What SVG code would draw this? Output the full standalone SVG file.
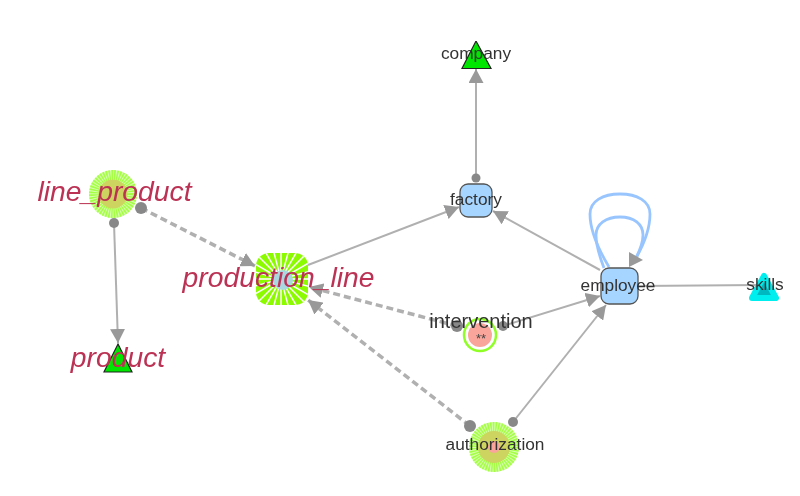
<svg xmlns="http://www.w3.org/2000/svg" width="800" height="496" viewBox="0 0 800 496">
<style>
.e{fill:none;stroke:#b0b0b0;stroke-width:2}
.d{fill:none;stroke:#b0b0b0;stroke-width:3.5;stroke-dasharray:7 4}
.l{fill:none;stroke:#99c5ff;stroke-width:2.800}
.dot{fill:#888}
.t{font-family:"Liberation Sans",Arial,sans-serif;font-size:17.300px;fill:#333;text-anchor:middle}
.r{font-family:"Liberation Sans",Arial,sans-serif;font-size:28.300px;font-style:italic;fill:#bb3355;text-anchor:middle}
.box{fill:#a6d5ff;stroke:#555;stroke-width:1.300}
.tri{fill:#00e600;stroke:#222;stroke-width:1.200}
.halo{fill:#d8ffb0}
.burst{fill:none;stroke:#a4ff45;stroke-width:10;stroke-dasharray:1.500 1}
.core{fill:#cdd45e}
</style>
<defs>
<marker id="a" markerUnits="userSpaceOnUse" markerWidth="15" markerHeight="15" refX="14" refY="7.500" orient="auto"><path d="M0 0L14 7.500L0 15Z" fill="#999"/></marker>
<clipPath id="pc"><rect x="256" y="253" width="52" height="52" rx="13"/></clipPath>
<filter id="soft" x="0" y="0" width="100%" height="100%"><feGaussianBlur stdDeviation="0.450"/></filter>
</defs>
<g filter="url(#soft)">
<g id="connectors">
<path class="e" d="M476 178V69" marker-end="url(#a)"/><circle class="dot" cx="476" cy="178" r="4.500"/>
<path class="e" d="M114 223L118 343" marker-end="url(#a)"/><circle class="dot" cx="114" cy="223" r="5"/>
<path class="d" d="M141 208L255 266" marker-end="url(#a)"/><circle class="dot" cx="141" cy="208" r="6"/>
<path class="e" d="M308 265L459 207" marker-end="url(#a)"/>
<path class="e" d="M600 270L493 211" marker-end="url(#a)"/>
<path class="d" d="M457 326L309 287" marker-end="url(#a)"/><circle class="dot" cx="457" cy="326" r="6"/>
<path class="e" d="M503 326L600 296" marker-end="url(#a)"/><circle class="dot" cx="503" cy="326" r="5"/>
<path class="d" d="M470 426L308 300" marker-end="url(#a)"/><circle class="dot" cx="470" cy="426" r="6"/>
<path class="e" d="M513 422L606 305" marker-end="url(#a)"/><circle class="dot" cx="513" cy="422" r="5"/>
<path class="e" d="M638 286L760 285"/>
<path class="l" d="M609 267C597 247 590 230 590 214C590 201 603 194 620 194C637 194 650 201 650 214C650 230 644 244 636 258"/>
<path class="l" d="M604 268C599 255 596 245 596 235C596 224 606 217 620 217C634 217 643 224 643 235C643 243 640 250 636 258"/>
<path d="M629 252L643 260L629 267Z" fill="#999"/>
</g>
<g id="company"><path class="tri" d="M476 41L491 68.500H462Z"/><text class="t" x="476" y="59">company</text></g>
<g id="factory"><rect class="box" x="460" y="184" width="32" height="33" rx="8"/><text class="t" x="476" y="205">factory</text></g>
<g id="employee"><rect class="box" x="601" y="268" width="37" height="36" rx="8"/><text class="t" x="618" y="291">employee</text></g>
<g id="skills"><path d="M764 276L776 298H752Z" fill="#00b8c0" stroke="#00eeee" stroke-width="6" stroke-linejoin="round"/><text class="t" x="765" y="290">skills</text></g>
<g id="line_product"><circle class="halo" cx="113" cy="194" r="24"/><circle class="burst" cx="113" cy="194" r="19"/><circle class="core" cx="113" cy="194" r="14.500"/><text class="r" x="114.500" y="201">line_product</text></g>
<g id="production_line">
<g clip-path="url(#pc)"><rect x="256" y="253" width="52" height="52" fill="#8cfb00"/>
<path d="M241 279H321M281 239V319M242.400 268.600L319.600 289.400M242.400 289.400L319.600 268.600M246.400 259L315.600 299M246.400 299L315.600 259M252.700 250.700L309.300 307.300M252.700 307.300L309.300 250.700M261 244.400L301 313.600M261 313.600L301 244.400M270.600 240.400L291.400 317.600M270.600 317.600L291.400 240.400" stroke="#fff" stroke-width="1.500" fill="none"/></g>
<circle cx="283" cy="280" r="10" fill="#a9d8e0"/>
<text class="r" x="278.500" y="287">production_line</text></g>
<g id="intervention"><circle cx="480" cy="335" r="16" fill="#fff" stroke="#8fff26" stroke-width="2.500"/><circle cx="480" cy="335" r="12" fill="#f9a59b"/><text x="481" y="343" font-family="Liberation Sans,sans-serif" font-size="13" fill="#444" text-anchor="middle">**</text><text class="t" x="481" y="328" style="font-size:20px">intervention</text></g>
<g id="authorization"><circle class="halo" cx="494" cy="447" r="25"/><circle class="burst" cx="494" cy="447" r="20"/><circle class="core" cx="494" cy="447" r="16"/><circle cx="494" cy="447" r="6" fill="#f9a59b"/><text class="t" x="495" y="450">authorization</text></g>
<g id="product"><path class="tri" d="M118 344L132 372H104Z"/><text class="r" x="118" y="367">product</text></g>
</g>
</svg>
